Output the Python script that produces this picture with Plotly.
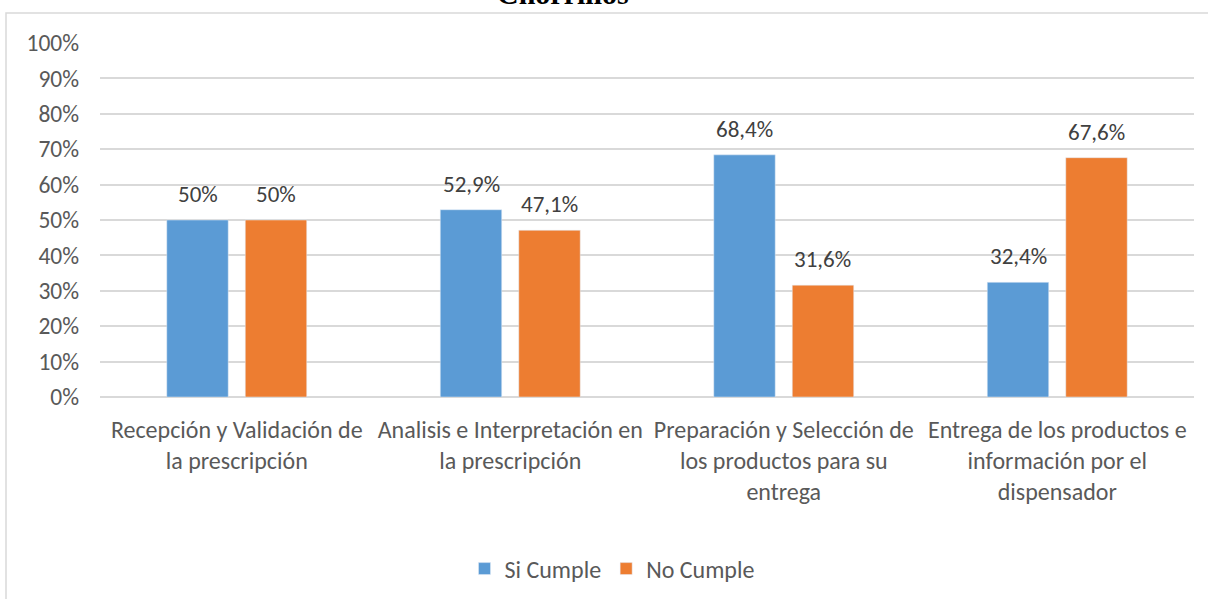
import plotly.graph_objects as go

categories = [
    "Recepción y Validación de<br>la prescripción",
    "Analisis e Interpretación en<br>la prescripción",
    "Preparación y Selección de<br>los productos para su<br>entrega",
    "Entrega de los productos e<br>información por el<br>dispensador",
]
si_cumple = [50.0, 52.9, 68.4, 32.4]
no_cumple = [50.0, 47.1, 31.6, 67.6]
series_names = ["Si Cumple", "No Cumple"]
tick_vals = [0, 10, 20, 30, 40, 50, 60, 70, 80, 90, 100]
tick_text = [f"{v}%" for v in tick_vals]

BLUE = "#5B9BD5"
ORANGE = "#ED7D31"
FONT = "Carlito, Lato, sans-serif"

W, H = 1208, 599
L, R, T, B = 100, 14, 43, 202
PW, PH = W - L - R, H - T - B


def fmt(v):
    if abs(v - round(v)) < 1e-9:
        return f"{int(round(v))}%"
    return f"{v:.1f}".replace(".", ",") + "%"


fig = go.Figure()
fig.add_trace(go.Bar(x=categories, y=si_cumple, name=series_names[0], marker_color=BLUE))
fig.add_trace(go.Bar(x=categories, y=no_cumple, name=series_names[1], marker_color=ORANGE))

annotations = []
for vals, shift in ((si_cumple, -39), (no_cumple, 39)):
    for c, v in zip(categories, vals):
        annotations.append(dict(
            x=c, y=v, xref="x", yref="y", text=fmt(v), showarrow=False,
            xshift=shift, yanchor="bottom", yshift=10,
            font=dict(family=FONT, size=23, color="#404040"),
        ))

annotations.append(dict(
    x=(563 - L) / PW, y=1 + (T - 12) / PH, xref="paper", yref="paper",
    text="<b>Chorrillos</b>", showarrow=False, xanchor="center", yanchor="bottom",
    font=dict(family="Liberation Serif", size=30, color="#000000"),
))

fig.update_layout(
    width=W, height=H,
    margin=dict(l=L, r=R, t=T, b=B, pad=0, autoexpand=False),
    paper_bgcolor="white", plot_bgcolor="white",
    barmode="group", bargap=0.426, bargroupgap=0.217,
    font=dict(family=FONT, color="#595959", size=23),
    showlegend=True,
    legend=dict(orientation="h", xref="container", yref="container",
                x=612 / W, y=1 - 569 / H,
                xanchor="center", yanchor="middle",
                font=dict(family=FONT, size=24, color="#595959"),
                tracegroupgap=0),
    annotations=annotations,
    shapes=[dict(type="rect", xref="paper", yref="paper",
                 x0=(6 - L) / PW, x1=(1215 - L) / PW,
                 y0=-(605 - (T + PH)) / PH, y1=1 + (T - 13) / PH,
                 line=dict(color="#D9D9D9", width=1.5), layer="below")],
)
fig.update_yaxes(range=[0, 100], tickvals=tick_vals, ticktext=tick_text,
                 showgrid=True, gridcolor="#D9D9D9", gridwidth=1.5,
                 zeroline=True, zerolinecolor="#D9D9D9", zerolinewidth=1.5,
                 showline=False, ticks="", ticklabelstandoff=20, automargin=False,
                 tickfont=dict(family=FONT, size=23.5, color="#595959"), fixedrange=True)
fig.update_xaxes(showline=False, ticks="", showgrid=False, automargin=False,
                 tickfont=dict(family=FONT, size=24, color="#595959"), ticklabelstandoff=16)

fig.write_html("out.html", config={"displayModeBar": False},
               post_script="document.body.style.margin='0';document.body.style.overflow='hidden';")
